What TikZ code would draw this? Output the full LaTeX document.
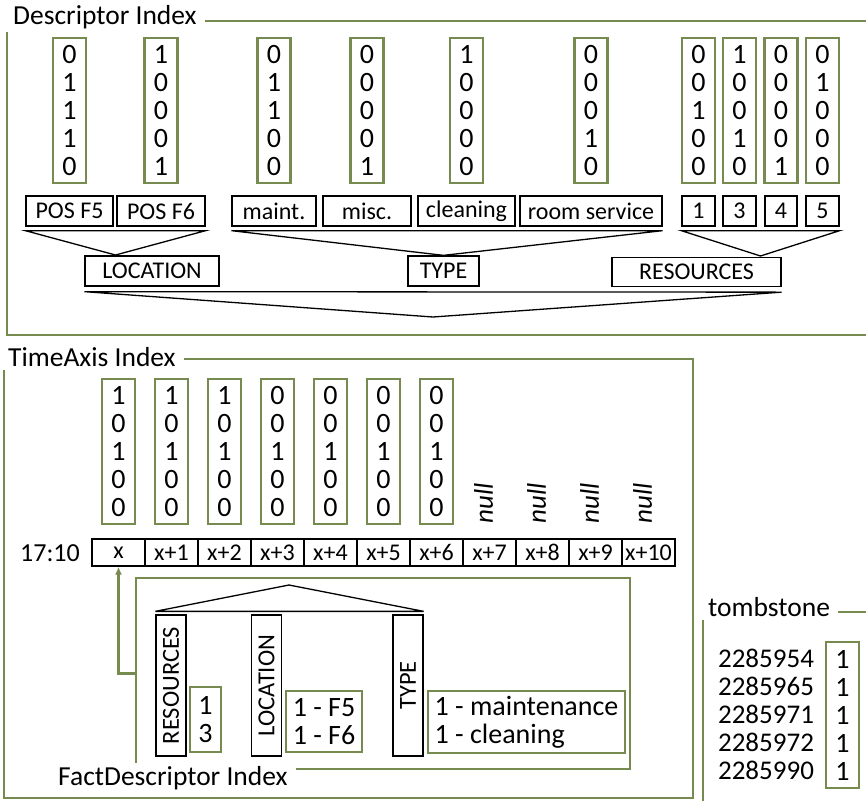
\documentclass[tikz,border=0pt]{standalone}
\usepackage{fontspec}
\setmainfont{Carlito}
\usetikzlibrary{arrows.meta,positioning}

\definecolor{olivegreen}{RGB}{119,138,80}

\tikzset{
  frame/.style={draw=olivegreen, line width=2.2pt},
  title/.style={fill=white, anchor=west, inner xsep=8pt, inner ysep=3pt, font=\fontsize{27.5}{30}\selectfont},
  bitcol/.style={draw=olivegreen, line width=2.2pt, minimum width=33pt, minimum height=145pt, inner sep=0pt, align=center, font=\fontsize{28}{28}\selectfont},
  lblbox/.style={draw, line width=1.3pt, minimum height=30pt, inner sep=0pt, font=\fontsize{24}{28}\selectfont},
  cell/.style={draw, line width=1.3pt, minimum width=53pt, minimum height=27pt, inner sep=0pt, font=\fontsize{24}{28}\selectfont},
  grp/.style={line width=1.3pt},
  vbox/.style={draw, line width=1.3pt, minimum width=30pt, minimum height=141pt, inner sep=0pt, font=\fontsize{24.5}{28}\selectfont},
  valbox/.style={draw=olivegreen, line width=2.2pt, inner sep=0pt, align=center, font=\fontsize{28}{28}\selectfont},
  nulltxt/.style={rotate=90, font=\fontsize{27}{28}\selectfont\itshape},
  greenarrow/.style={draw=olivegreen, line width=2.2pt, -{Latex[length=8pt,width=7pt]}}
}

\begin{document}
\begin{tikzpicture}[x=1pt, y=-1pt]
    \useasboundingbox (0,0) rectangle (866,800);
    \clip (0,0) rectangle (866,800);

    % Descriptor index
    \draw[frame] (7,21) rectangle (872,335);
    \node[title] (desctitle) at (5,17) {Descriptor Index};
    \foreach \name/\x/\w/\lab/\ba/\bb/\bc/\bd/\be in {
        pf5/69.5/87/POS F5/0/1/1/1/0,
        pf6/161/88/POS F6/1/0/0/0/1,
        mnt/274/84/maint./0/1/1/0/0,
        msc/367/88/misc./0/0/0/0/1,
        cln/466.5/97/cleaning/1/0/0/0/0,
        rms/591/142/room service/0/0/0/1/0,
        r1/698.5/33/1/0/0/1/0/0,
        r3/739.5/33/3/1/0/0/1/0,
        r4/781/32/4/0/0/0/0/1,
        r5/822.5/33/5/0/1/0/0/0} {
        \node[lblbox, minimum width=\w pt] (\name) at (\x,211) {\lab};
        \node[bitcol, above=11pt of \name] (b\name) {\ba\\\bb\\\bc\\\bd\\\be};
    }
    \node[lblbox, minimum width=134pt] (loc) at (152,271) {LOCATION};
    \node[lblbox, minimum width=71pt] (type) at (443.5,271) {TYPE};
    \node[lblbox, minimum width=169pt, minimum height=29pt] (res) at (696.5,272) {RESOURCES};
    \coordinate (loctip) at (115.5,255);
    \coordinate (restip) at (760.5,256);
    \coordinate (desctip) at (433,317);
    \draw[grp] ([yshift=-4pt]pf5.south west) -- ([yshift=-4pt]pf6.south east) -- (loctip) -- cycle;
    \draw[grp] ([yshift=-4pt]mnt.south west) -- ([yshift=-4pt]rms.south east) -- (type.north) -- cycle;
    \draw[grp] ([yshift=-4pt]r1.south west) -- ([yshift=-4pt]r5.south east) -- (restip) -- cycle;
    \draw[grp] ([yshift=-5pt]loc.south west) -- ([yshift=-5pt]res.south east) -- (desctip) -- cycle;

    % TimeAxis index
    \draw[frame] (4,359) rectangle (693,798);
    \node[title] (timetitle) at (0,357) {TimeAxis Index};
    \node[font=\fontsize{26}{28}\selectfont] (clock) at (50,553) {17:10};
    \foreach \i/\lab in {0/x,1/x+1,2/x+2,3/x+3,4/x+4,5/x+5,6/x+6,7/x+7,8/x+8,9/x+9,10/x+10} {
        \node[cell] (c\i) at (118.5+53*\i,552.5) {\lab};
    }
    \foreach \i/\ba/\bb/\bc/\bd/\be in {0/1/0/1/0/0,1/1/0/1/0/0,2/1/0/1/0/0,3/0/0/1/0/0,
        4/0/0/1/0/0,5/0/0/1/0/0,6/0/0/1/0/0} {
        \node[bitcol, above=13pt of c\i] (t\i) {\ba\\\bb\\\bc\\\bd\\\be};
    }
    \foreach \i in {7,...,10} {
        \node[nulltxt] (null\i) at (112.5+53*\i,503) {null};
    }

    % FactDescriptor index
    \node[frame, minimum width=494pt, minimum height=191pt, inner sep=0pt] (fdbox) at (383,673.5) {};
    \node[title] (fdtitle) at (50,778) {FactDescriptor Index};
    \node[vbox] (fres) at (171,685.5) {\rotatebox{90}{RESOURCES}};
    \node[vbox] (floc) at (266.5,685.5) {\rotatebox{90}{LOCATION}};
    \node[vbox] (ftype) at (408,685.5) {\rotatebox{90}{TYPE}};
    \coordinate (fdtip) at (289,585);
    \draw[grp] ([yshift=3pt]fres.north west) -- ([yshift=3pt]ftype.north east) -- (fdtip) -- cycle;
    \node[valbox, minimum width=31pt, minimum height=65pt] (fv1) at (205.5,719.5) {1\\3};
    \node[valbox, minimum width=76pt, minimum height=61pt] (fv2) at (324,721.5) {1 - F5\\1 - F6};
    \node[valbox, minimum width=197pt, minimum height=62pt, align=left] (fv3) at (526.5,722) {1 - maintenance\\1 - cleaning};
    \draw[greenarrow] (fdbox.west) -| (c0.south);

    % tombstone
    \draw[frame] (703,612) rectangle (872,805);
    \node[title] (tstitle) at (700,607) {tombstone};
    \foreach \i/\num in {0/2285954,1/2285965,2/2285971,3/2285972,4/2285990} {
        \node[font=\fontsize{27}{28}\selectfont] (ts\i) at (766,658+28*\i) {\num};
    }
    \node[bitcol, minimum height=146pt] (tsbits) at (842.5,715) {1\\1\\1\\1\\1};
\end{tikzpicture}
\end{document}
